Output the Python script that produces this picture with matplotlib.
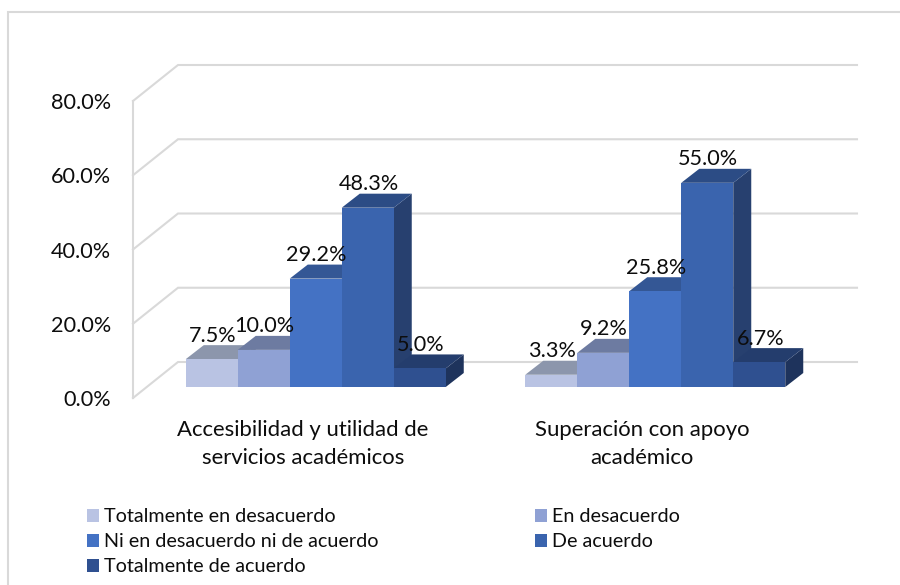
import matplotlib
matplotlib.use("Agg")
import matplotlib.pyplot as plt
from matplotlib.lines import Line2D
from matplotlib.patches import Polygon, Patch, Rectangle

W, H = 900, 585
categories = ["Accesibilidad y utilidad de\nservicios académicos", "Superación con apoyo\nacadémico"]
series = ["Totalmente en desacuerdo", "En desacuerdo", "Ni en desacuerdo ni de acuerdo",
          "De acuerdo", "Totalmente de acuerdo"]
values = [[7.5, 3.3], [10.0, 9.2], [29.2, 25.8], [48.3, 55.0], [5.0, 6.7]]
front_colors = ["#B9C3E3", "#8FA1D4", "#4472C4", "#3A64AE", "#2F5090"]
top_colors = ["#8C96AC", "#6D7BA1", "#345795", "#2C4C85", "#243D6D"]
side_colors = ["#8C96AC", "#6D7BA1", "#2C4A80", "#27406F", "#1E335C"]
y_ticks = [0, 20, 40, 60, 80]

plt.rcParams["font.family"] = ["Lato", "DejaVu Sans"]
fig = plt.figure(figsize=(W / 100, H / 100), dpi=100)
fig.patch.set_facecolor("white")

# outer chart frame: only its top and left edges fall inside the picture
fig.add_artist(Line2D([8 / W, 8 / W, 1], [0, 1 - 12 / H, 1 - 12 / H], transform=fig.transFigure,
                      color="#D9D9D9", linewidth=1.5, solid_joinstyle="miter"))

# front plane of the 3D box
L, R, T, B = 133, 812, 101, 398
ax = fig.add_axes([L / W, 1 - B / H, (R - L) / W, (B - T) / H])
ax.set_xlim(0, 2)
ax.set_ylim(0, 80)
ax.patch.set_alpha(0)

px_x = 2 / (R - L)    # data units per pixel
px_y = 80 / (B - T)
wall_dx, wall_dy = 45 * px_x, 36 * px_y
bar_dx, bar_dy = 18 * px_x, 14 * px_y
floor_dx, floor_dy = 13 * px_x, 11 * px_y
bar_w = 52 * px_x

# walls and gridlines
grid = "#D9D9D9"
for v in y_ticks:
    ax.plot([0, wall_dx, 2 + wall_dx], [v, v + wall_dy, v + wall_dy], color=grid, lw=1.5,
            clip_on=False, zorder=1, solid_joinstyle="miter")

# bars
labels = []
for s, vals in enumerate(values):
    for c, v in enumerate(vals):
        x0 = c + 0.5 + floor_dx + (s - 2.5) * bar_w
        x1 = x0 + bar_w
        y0 = floor_dy
        y1 = y0 + v
        z = 3 + c * 10 + s
        ax.add_patch(Polygon([(x1, y0), (x1 + bar_dx, y0 + bar_dy), (x1 + bar_dx, y1 + bar_dy), (x1, y1)],
                             facecolor=side_colors[s], edgecolor="none", clip_on=False, zorder=z))
        ax.add_patch(Polygon([(x0, y1), (x1, y1), (x1 + bar_dx, y1 + bar_dy), (x0 + bar_dx, y1 + bar_dy)],
                             facecolor=top_colors[s], edgecolor="none", clip_on=False, zorder=z))
        ax.add_patch(Rectangle((x0, y0), bar_w, v, facecolor=front_colors[s], edgecolor="none",
                               clip_on=False, zorder=z))
        labels.append(((x0 + x1) / 2, y1, f"{v:.1f}%"))

text_color = "#0D0D0D"
for x, y, t in labels:
    ax.annotate(t, (x, y), xytext=(0.7, 17.0), textcoords="offset points", ha="center", va="center",
                fontsize=15.6, color=text_color, zorder=50, annotation_clip=False)

# axes
for k in ("top", "right", "bottom"):
    ax.spines[k].set_visible(False)
ax.spines["left"].set_color(grid)
ax.spines["left"].set_linewidth(1.5)
ax.set_yticks(y_ticks)
ax.set_yticklabels([f"{v:.1f}%" for v in y_ticks], fontsize=15.6, color=text_color)
ax.tick_params(axis="y", length=0, pad=16)
ax.set_xticks([0.5, 1.5])
ax.set_xticklabels(categories, fontsize=15.9, color=text_color, linespacing=1.52)
ax.tick_params(axis="x", length=0, pad=15.5)

# legend (matplotlib fills columns first; the reference reads row by row)
order = [0, 2, 4, 1, 3]
handles = [Patch(facecolor=front_colors[i], edgecolor="none", label=series[i]) for i in order]
leg = fig.legend(handles=handles, loc="upper left", bbox_to_anchor=(81 / W, 1 - 502.5 / H),
                 bbox_transform=fig.transFigure, ncol=2, frameon=False, fontsize=14.2,
                 handlelength=0.6, handleheight=0.6, handletextpad=0.25,
                 labelspacing=0.40, columnspacing=7.95, labelcolor=text_color, borderpad=0.3, borderaxespad=0)

fig.savefig("out.png", dpi=100)
